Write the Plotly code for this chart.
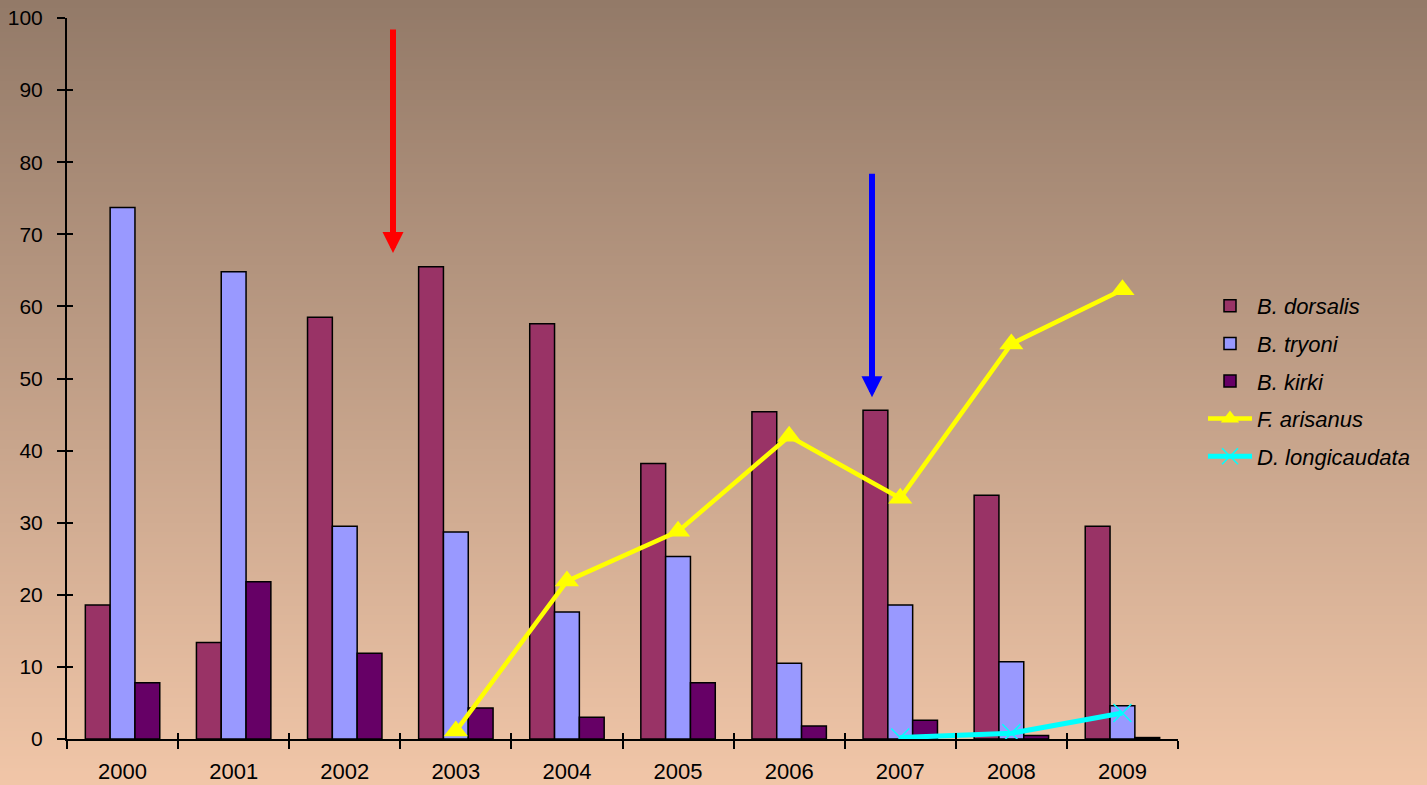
import base64
import struct
import zlib

import plotly.graph_objects as go

# ---------------- data ----------------
years = ["2000", "2001", "2002", "2003", "2004", "2005", "2006", "2007", "2008", "2009"]
b_dorsalis = [18.6, 13.4, 58.5, 65.5, 57.6, 38.2, 45.4, 45.6, 33.8, 29.5]
b_tryoni = [73.7, 64.8, 29.5, 28.7, 17.6, 25.3, 10.5, 18.6, 10.7, 4.6]
b_kirki = [7.8, 21.8, 11.9, 4.3, 3.0, 7.8, 1.8, 2.6, 0.5, 0.2]
f_arisanus_years = ["2003", "2004", "2005", "2006", "2007", "2008", "2009"]
f_arisanus = [1.1, 21.9, 28.8, 42.0, 33.4, 54.8, 62.3]
d_longi_years = ["2007", "2008", "2009"]
d_longicaudata = [0.2, 0.8, 3.6]
y_ticks = [0, 10, 20, 30, 40, 50, 60, 70, 80, 90, 100]

# ---------------- background gradient image ----------------
def gradient_png(top, bottom, n=256):
    raw = b""
    for i in range(n):
        t = i / (n - 1)
        c = bytes(int(round(top[k] + (bottom[k] - top[k]) * t)) for k in range(3))
        raw += b"\x00" + c
    def chunk(tag, data):
        return (struct.pack(">I", len(data)) + tag + data +
                struct.pack(">I", zlib.crc32(tag + data) & 0xFFFFFFFF))
    png = b"\x89PNG\r\n\x1a\n"
    png += chunk(b"IHDR", struct.pack(">IIBBBBB", 1, n, 8, 2, 0, 0, 0))
    png += chunk(b"IDAT", zlib.compress(raw, 9))
    png += chunk(b"IEND", b"")
    return "data:image/png;base64," + base64.b64encode(png).decode()

W, H = 1427, 785
ML, MR, MT, MB = 67, 249, 18, 46
PW, PH = W - ML - MR, H - MT - MB

FONT = "Liberation Sans, Arial, sans-serif"

fig = go.Figure()
fig.add_trace(go.Bar(x=years, y=b_dorsalis, name="<i>B. dorsalis</i>", legendgroup="a",
                     marker=dict(color="#993366", line=dict(color="black", width=1.5))))
fig.add_trace(go.Bar(x=years, y=b_tryoni, name="<i>B. tryoni</i>", legendgroup="b",
                     marker=dict(color="#9999FF", line=dict(color="black", width=1.5))))
fig.add_trace(go.Bar(x=years, y=b_kirki, name="<i>B. kirki</i>", legendgroup="c",
                     marker=dict(color="#660066", line=dict(color="black", width=1.5))))
fig.add_trace(go.Scatter(x=f_arisanus_years, y=f_arisanus, name="<i>F. arisanus</i>",
                         legendgroup="d", mode="lines+markers",
                         line=dict(color="#FFFF00", width=4.5),
                         marker=dict(symbol="triangle-up", size=21, color="#FFFF00")))
fig.add_trace(go.Scatter(x=d_longi_years, y=d_longicaudata, name="<i>D. longicaudata</i>",
                         legendgroup="e", mode="lines+markers",
                         line=dict(color="#00FFFF", width=5),
                         marker=dict(symbol="x-thin", size=18,
                                     line=dict(color="#00FFFF", width=1.5))))
# empty helper trace so the overlay axes (inner half of the crossing ticks) are drawn
fig.add_trace(go.Scatter(x=[], y=[], xaxis="x2", yaxis="y2", showlegend=False,
                         hoverinfo="skip"))

# arrows
fig.add_annotation(x=(393 - ML) / PW, xref="paper", y=67.4, yref="y",
                   ax=0, axref="pixel", ay=98.6, ayref="y", text="",
                   showarrow=True, arrowhead=2, arrowsize=0.7, arrowwidth=6,
                   arrowcolor="#FF0000")
fig.add_annotation(x=(872 - ML) / PW, xref="paper", y=47.4, yref="y",
                   ax=0, axref="pixel", ay=78.6, ayref="y", text="",
                   showarrow=True, arrowhead=2, arrowsize=0.7, arrowwidth=6,
                   arrowcolor="#0000FF")

fig.add_layout_image(dict(source=gradient_png((147, 122, 104), (241, 198, 168)),
                          xref="paper", yref="paper",
                          x=-ML / PW, y=1 + MT / PH, sizex=W / PW, sizey=H / PH,
                          xanchor="left", yanchor="top", sizing="stretch",
                          layer="below"))

fig.update_layout(
    width=W, height=H,
    margin=dict(l=ML, r=MR, t=MT, b=MB, autoexpand=False),
    paper_bgcolor="#C9A488",
    plot_bgcolor="rgba(0,0,0,0)",
    barmode="group", bargap=0.33, bargroupgap=0,
    font=dict(family=FONT, size=22, color="black"),
    showlegend=True,
    legend=dict(x=(1203 - ML) / PW, y=(739 - 285) / PH, xanchor="left", yanchor="top",
                bgcolor="rgba(0,0,0,0)", font=dict(size=22, family=FONT),
                tracegroupgap=6, itemwidth=44),
    xaxis2=dict(overlaying="x", anchor="y2", range=[-0.5, 9.5],
                tickvals=[i - 0.5 for i in range(len(years) + 1)],
                ticks="inside", ticklen=6, tickwidth=2, tickcolor="black",
                showticklabels=False, showgrid=False, zeroline=False, showline=False,
                automargin=False),
    yaxis2=dict(overlaying="y", anchor="x2", range=[0, 100], tickvals=y_ticks,
                ticks="inside", ticklen=6, tickwidth=2, tickcolor="black",
                showticklabels=False, showgrid=False, zeroline=False, showline=False,
                automargin=False),
)
fig.layout.xaxis.update(type="category", range=[-0.5, 9.5], showline=True, linecolor="black",
                        linewidth=2, ticks="outside", tickson="boundaries", ticklen=8,
                        tickwidth=2, tickcolor="black", showgrid=False, zeroline=False,
                        tickfont=dict(size=22, family=FONT), automargin=False,
                        ticklabelstandoff=12)
fig.layout.yaxis.update(range=[0, 100], tickvals=y_ticks, showline=True, linecolor="black",
                        linewidth=2, ticks="outside", ticklen=8, tickwidth=2,
                        tickcolor="black", showgrid=False, zeroline=False,
                        tickfont=dict(size=21, family=FONT), ticklabelstandoff=10,
                        automargin=False)

fig.write_html("out.html", config={"displayModeBar": False})

# remove the default page margin so the figure fills the window exactly
with open("out.html", "r", encoding="utf-8") as f:
    html = f.read()
html = html.replace("<head>", "<head><style>html,body{margin:0;padding:0;overflow:hidden;}</style>", 1)
with open("out.html", "w", encoding="utf-8") as f:
    f.write(html)
